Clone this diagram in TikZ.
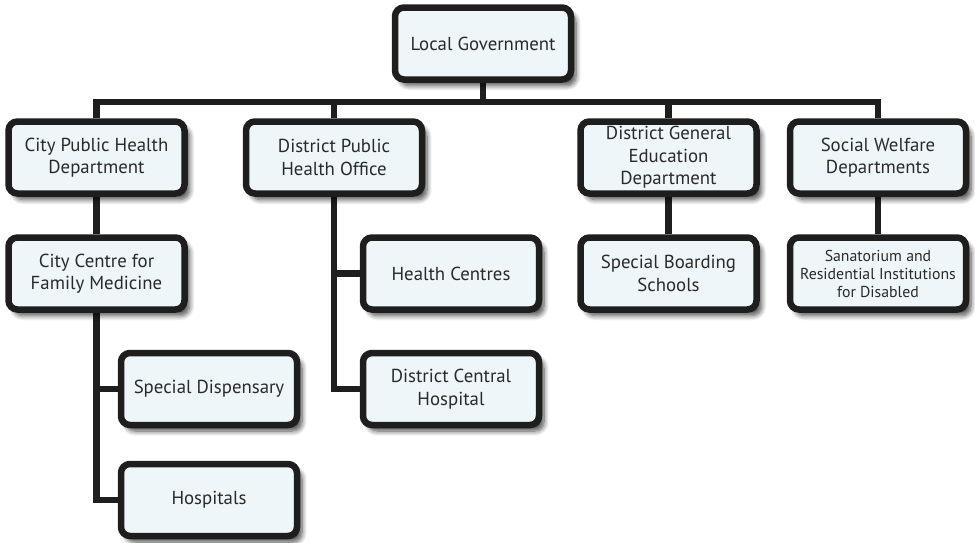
\documentclass[tikz,border=0pt]{standalone}
\usepackage{fontspec}
\setmainfont{PT Sans}
\usetikzlibrary{shadows.blur,backgrounds}
\definecolor{boxfill}{HTML}{EEF6FA}
\definecolor{bord}{HTML}{1E1E1E}
\definecolor{txt}{HTML}{2A2A2A}
\begin{document}
\begin{tikzpicture}[x=1pt,y=-1pt,
 box/.style={draw=bord, line width=6.5pt, fill=boxfill, rounded corners=9pt,
   minimum width=176pt, minimum height=72pt, align=center,
   font=\fontsize{18.8}{22.5}\selectfont, text=txt, inner sep=0pt,
   blur shadow={shadow xshift=5pt, shadow yshift=-6pt, shadow blur steps=8,
     shadow opacity=70, shadow blur radius=5pt}},
 smalltext/.style={font=\fontsize{15.8}{18}\selectfont},
 conn/.style={draw=bord, line width=6.5pt, line join=miter}]
\useasboundingbox (0,0) rectangle (975,542);
\node[box] (lg) at (483,43.5) {Local Government};
\node[box] (cphd) at (96.5,157.5) {City Public Health\\Department};
\node[box] (dpho) at (334,157.5) {District Public\\Health Office};
\node[box] (dged) at (668.5,157.5) {District General\\Education\\Department};
\node[box] (swd) at (878,157.5) {Social Welfare\\Departments};
\node[box] (ccfm) at (96.5,273.5) {City Centre for\\Family Medicine};
\node[box] (hc) at (451,273.5) {Health Centres};
\node[box] (sbs) at (668.5,273.5) {Special Boarding\\Schools};
\node[box, smalltext] (san) at (878,273.5) {Sanatorium and\\Residential Institutions\\for Disabled};
\node[box] (sd) at (209,389) {Special Dispensary};
\node[box] (dch) at (451,389) {District Central\\Hospital};
\node[box] (hos) at (209,500) {Hospitals};
\coordinate (busL) at (96.5,102);
\begin{scope}[on background layer]
\draw[conn] (cphd.north) -- (cphd.north |- busL) -| (swd.north);
\draw[conn] (lg.south) -- (lg.south |- busL);
\draw[conn] (dpho.north) -- (dpho.north |- busL);
\draw[conn] (dged.north) -- (dged.north |- busL);
\draw[conn] (cphd.south) -- (ccfm.north);
\draw[conn] (dged.south) -- (sbs.north);
\draw[conn] (swd.south) -- (san.north);
\draw[conn] (ccfm.south) |- (sd.west);
\draw[conn] (ccfm.south) |- (hos.west);
\draw[conn] (dpho.south) |- (hc.west);
\draw[conn] (dpho.south) |- (dch.west);
\end{scope}
\end{tikzpicture}
\end{document}
